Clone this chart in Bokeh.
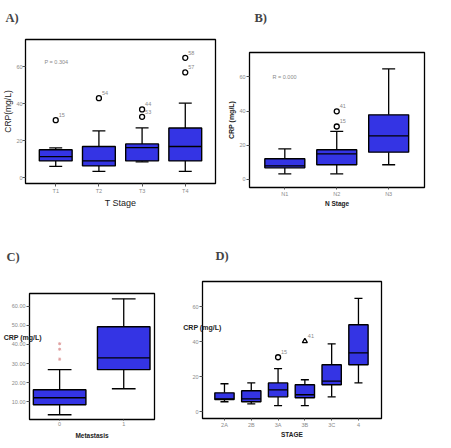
from bokeh.plotting import figure
from bokeh.layouts import column, row
from bokeh.models import Range1d, FixedTicker, Label
from bokeh.embed import file_html
from bokeh.resources import INLINE
from bokeh.core.properties import value
import numpy as np

# ---------------- data ----------------
# A) CRP by T stage
a_cats = ["T1", "T2", "T3", "T4"]
a_lo = [6.0, 3.4, 8.5, 3.4]
a_q1 = [9.0, 6.3, 9.0, 9.0]
a_med = [11.3, 9.0, 16.2, 16.8]
a_q3 = [15.0, 16.8, 18.2, 26.8]
a_hi = [16.0, 25.2, 26.8, 40.2]
a_out_cat = ["T1", "T2", "T3", "T3", "T4", "T4"]
a_out_val = [31.0, 42.9, 36.8, 32.8, 64.7, 56.8]
a_out_lab = ["15", "54", "44", "53", "58", "57"]
a_yticks = [0, 20, 40, 60]

# B) CRP by N stage
b_cats = ["N1", "N2", "N3"]
b_lo = [3.3, 3.3, 8.6]
b_q1 = [6.8, 8.6, 16.0]
b_med = [8.0, 15.0, 25.5]
b_q3 = [12.1, 17.4, 37.8]
b_hi = [17.9, 28.2, 64.7]
b_out_cat = ["N2", "N2"]
b_out_val = [39.9, 31.0]
b_out_lab = ["41", "15"]
b_yticks = [0, 20, 40, 60]

# C) CRP by metastasis
c_cats = ["0", "1"]
c_lo = [3.2, 16.8]
c_q1 = [8.4, 26.8]
c_med = [12.1, 33.0]
c_q3 = [16.3, 49.3]
c_hi = [26.8, 63.9]
c_out_cat = ["0", "0", "0"]
c_out_val = [40.4, 37.5, 32.3]
c_yticks = [10, 20, 30, 40, 50, 60]
c_ytick_labels = ["10.00", "20.00", "30.00", "40.00", "50.00", "60.00"]

# D) CRP by stage
d_cats = ["2A", "2B", "3A", "3B", "3C", "4"]
d_lo = [5.6, 4.4, 3.4, 3.4, 8.4, 16.4]
d_q1 = [6.9, 5.6, 8.4, 7.9, 15.3, 26.8]
d_med = [7.2, 7.3, 12.4, 9.6, 17.4, 33.6]
d_q3 = [10.7, 11.9, 16.4, 15.3, 26.8, 49.7]
d_hi = [15.9, 16.4, 24.6, 18.2, 38.8, 64.8]
d_out_cat = ["3A", "3B"]
d_out_val = [31.1, 40.3]
d_out_mark = ["circle", "triangle"]
d_out_lab = ["15", "41"]
d_yticks = [0, 20, 40, 60]

BOX = "#3434e4"
SANS = "Liberation Sans"
SERIF = "Liberation Serif"


def make_panel(fw, fh, bl, br, bt, bb, xr, yr, letter, extra_lines, loff, lstand):
    p = figure(frame_width=fw, frame_height=fh, x_range=Range1d(*xr), y_range=Range1d(*yr),
               output_backend="svg", toolbar_location=None,
               min_border_left=bl, min_border_right=br,
               min_border_top=bt, min_border_bottom=bb)
    p.outline_line_color = "black"
    p.outline_line_width = 1.3
    p.outline_line_alpha = 1.0
    p.grid.visible = False
    p.background_fill_color = "white"
    p.border_fill_color = "white"
    # panel letter; trailing blank lines lift it away from the frame
    p.title.text = letter + "\n" * extra_lines
    p.title.text_font = SERIF
    p.title.text_font_size = "12.5px"
    p.title.text_font_style = "bold"
    p.title.align = "left"
    p.title.offset = loff
    p.title.standoff = lstand
    for ax in (p.xaxis[0], p.yaxis[0]):
        ax.axis_line_color = None
        ax.minor_tick_line_color = None
        ax.major_tick_line_color = "#555555"
        ax.major_tick_in = 0
        ax.major_tick_out = 3
        ax.major_label_text_font = SANS
        ax.major_label_text_font_size = "5.5px"
        ax.major_label_text_color = "#8a8a8a"
        ax.major_label_standoff = 1
        ax.axis_label_text_font = SANS
        ax.axis_label_text_font_style = "normal"
        ax.axis_label_text_color = "#222222"
        ax.axis_label_standoff = 1
    return p


def draw_boxes(p, cats, lo, q1, med, q3, hi, bw, cw):
    xs = np.arange(1, len(cats) + 1, dtype=float)
    p.xaxis[0].ticker = FixedTicker(ticks=list(xs))
    p.xaxis[0].major_label_overrides = {float(x): c for x, c in zip(xs, cats)}
    p.segment(x0=xs, y0=q3, x1=xs, y1=hi, line_color="black", line_width=1.3)
    p.segment(x0=xs, y0=lo, x1=xs, y1=q1, line_color="black", line_width=1.3)
    p.segment(x0=xs - cw / 2, y0=hi, x1=xs + cw / 2, y1=hi, line_color="black", line_width=1.3)
    p.segment(x0=xs - cw / 2, y0=lo, x1=xs + cw / 2, y1=lo, line_color="black", line_width=1.3)
    p.vbar(x=xs, width=bw, bottom=q1, top=q3, fill_color=BOX, line_color="black", line_width=1.4)
    p.segment(x0=xs - bw / 2, y0=med, x1=xs + bw / 2, y1=med, line_color="black", line_width=1.3)
    return {c: x for c, x in zip(cats, xs)}


def outliers(p, pos, out_cat, out_val, labels, marker="circle"):
    ox = [pos[c] for c in out_cat]
    p.scatter(x=ox, y=out_val, marker=marker, size=5, fill_color="white",
              line_color="black", line_width=1.3)
    if labels:
        p.text(x=ox, y=out_val, text=labels, x_offset=3, y_offset=-5,
               text_font=value(SANS), text_font_size="5.5px", text_color="#8a8a8a",
               text_baseline="middle", text_align="left")


def note(p, txt, x, y):
    p.add_layout(Label(x=x, y=y, x_units="screen", y_units="screen", text=txt,
                       text_font=SANS, text_font_size="5.5px",
                       text_color="#8a8a8a", text_baseline="middle", text_align="left"))


def side_label(ax, txt, standoff, line_height):
    # horizontal y-axis title that reaches into the plot, raised above the centre
    ax.axis_label = txt + "\n"
    ax.axis_label_orientation = "horizontal"
    ax.axis_label_text_font_size = "7px"
    ax.axis_label_text_font_style = "bold"
    ax.axis_label_text_line_height = line_height
    ax.axis_label_standoff = standoff


def bold_xlabel(ax, txt, standoff):
    ax.axis_label = txt
    ax.axis_label_text_font_size = "6.5px"
    ax.axis_label_text_font_style = "bold"
    ax.axis_label_standoff = standoff


# ---------------- panel A ----------------
pA = make_panel(190, 144, 20, 10, 39, 53, (0.3, 4.7), (-3.2, 74.6), "A)", 1, -20, 2)
posA = draw_boxes(pA, a_cats, a_lo, a_q1, a_med, a_q3, a_hi, 0.76, 0.3)
outliers(pA, posA, a_out_cat, a_out_val, a_out_lab)
pA.yaxis[0].ticker = FixedTicker(ticks=a_yticks)
pA.yaxis[0].major_label_standoff = 0
pA.yaxis[0].axis_label_standoff = 0
pA.xaxis[0].axis_label = "T Stage"
pA.yaxis[0].axis_label = "CRP(mg/L)"
pA.xaxis[0].axis_label_text_font_size = "9px"
pA.yaxis[0].axis_label_text_font_size = "8.5px"
pA.xaxis[0].axis_label_standoff = 1
note(pA, "P = 0.304", 19, 122)

# ---------------- panel B ----------------
pB = make_panel(175, 135, 20, 20, 52, 41, (0.32, 3.69), (-4.7, 74.3), "B)", 2, 5, 0)
posB = draw_boxes(pB, b_cats, b_lo, b_q1, b_med, b_q3, b_hi, 0.77, 0.25)
outliers(pB, posB, b_out_cat, b_out_val, b_out_lab)
pB.yaxis[0].ticker = FixedTicker(ticks=b_yticks)
pB.yaxis[0].axis_label = "CRP (mg/L)"
pB.yaxis[0].axis_label_text_font_size = "7px"
pB.yaxis[0].axis_label_text_font_style = "bold"
pB.yaxis[0].major_label_standoff = 1
pB.xaxis[0].major_tick_out = 2
bold_xlabel(pB.xaxis[0], "N Stage", 0)
note(pB, "R = 0.000", 23, 111)

# ---------------- panel C ----------------
pC = make_panel(125, 126, 23, 26, 57, 21, (0.53, 2.48), (0.7, 66.7), "C)", 2, -23, 3)
posC = draw_boxes(pC, c_cats, c_lo, c_q1, c_med, c_q3, c_hi, 0.82, 0.37)
pC.scatter(x=[posC[c] for c in c_out_cat], y=c_out_val, marker="asterisk", size=3,
           line_color="#e0a0a0", line_width=1)
pC.yaxis[0].ticker = FixedTicker(ticks=c_yticks)
pC.yaxis[0].major_label_overrides = {t: l for t, l in zip(c_yticks, c_ytick_labels)}
side_label(pC.yaxis[0], "CRP (mg/L)", -33, 5.3)
pC.xaxis[0].major_tick_out = 1
bold_xlabel(pC.xaxis[0], "Metastasis", 3)

# ---------------- panel D ----------------
pD = make_panel(179, 137, 21, 45, 45, 22, (0.18, 6.86), (-4.0, 74.5), "D)", 1, 13, 10)
posD = draw_boxes(pD, d_cats, d_lo, d_q1, d_med, d_q3, d_hi, 0.72, 0.3)
for c, v, m, l in zip(d_out_cat, d_out_val, d_out_mark, d_out_lab):
    outliers(pD, posD, [c], [v], [l], marker=m)
pD.yaxis[0].ticker = FixedTicker(ticks=d_yticks)
side_label(pD.yaxis[0], "CRP (mg/L)", -32, 6.5)
pD.xaxis[0].major_tick_out = 2
bold_xlabel(pD.xaxis[0], "STAGE", 0)

layout = column(row(column(pA), column(pB), spacing=0),
                row(column(pC), column(pD), spacing=0), spacing=0)

with open("out.html", "w") as f:
    f.write(file_html(layout, INLINE))
